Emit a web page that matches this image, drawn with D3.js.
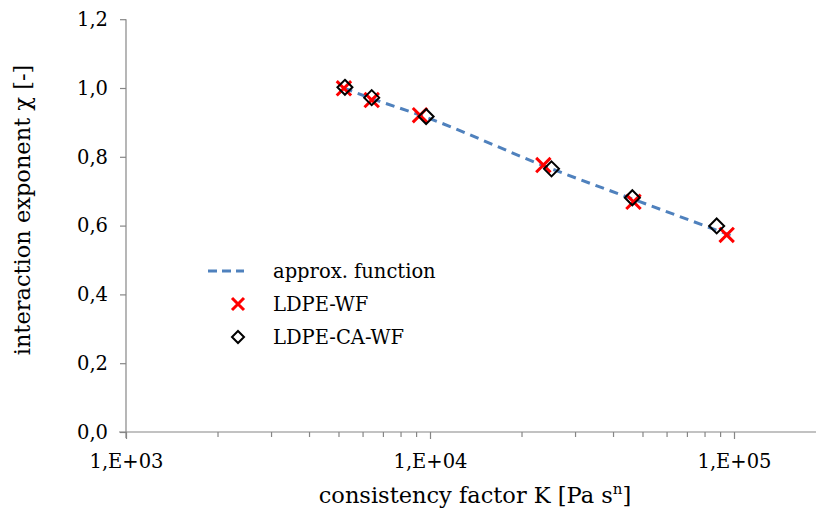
<!DOCTYPE html>
<html><head><meta charset="utf-8">
<script src="https://cdn.jsdelivr.net/npm/d3@7"></script>
<style>body{margin:0;background:#fff}svg{display:block}</style>
</head><body>
<svg id="c" width="816" height="511"></svg>
<script>
const xTickValues = [1e3, 1e4, 1e5];
const xTickLabels = ["1,E+03", "1,E+04", "1,E+05"];
const yTickValues = [0, 0.2, 0.4, 0.6, 0.8, 1.0, 1.2];
const yTickLabels = ["0,0", "0,2", "0,4", "0,6", "0,8", "1,0", "1,2"];

const approxK = [5200, 6400, 9500, 24300, 46500, 100000];
const approxChi = [1.0, 0.97, 0.918, 0.77, 0.677, 0.568];

const ldpeWfK = [5210, 6430, 9270, 23600, 46700, 94600];
const ldpeWfChi = [0.999, 0.965, 0.921, 0.776, 0.669, 0.573];

const ldpeCaWfK = [5250, 6430, 9710, 25100, 46300, 87700];
const ldpeCaWfChi = [1.002, 0.972, 0.917, 0.765, 0.681, 0.599];

const seriesNames = ["approx. function", "LDPE-WF", "LDPE-CA-WF"];
const xTitle = "consistency factor K [Pa s";
const yTitle = "interaction exponent χ [-]";

const svg = d3.select("#c");
const font = "'DejaVu Serif', 'Liberation Serif', serif";
const axisColor = "#868686";

const x = d3.scaleLog().domain([1e3, 2e5]).range([126, 126 + Math.log10(200) * 304]);
const y = d3.scaleLinear().domain([0, 1.2]).range([432, 19.2]);

// Y axis
const yAxis = d3.axisLeft(y).tickValues(yTickValues).tickSize(6)
  .tickFormat((d, i) => yTickLabels[i]);
const gy = svg.append("g").attr("transform", "translate(126,0)").call(yAxis);
gy.select(".domain").attr("d", `M0,${y(1.2)}V${y(0) + 6}`);
// X axis
const minorVals = [];
for (let dec = 1e3; dec < 2e5; dec *= 10) for (let m = 2; m <= 9; m++) if (dec * m <= 2e5) minorVals.push(dec * m);
const gxm = svg.append("g").attr("transform", `translate(0,${y(0)})`)
  .call(d3.axisBottom(x).tickValues(minorVals).tickSize(5).tickFormat(""));
gxm.select(".domain").remove();
const xAxis = d3.axisBottom(x).tickValues(xTickValues).tickSize(7).tickPadding(15)
  .tickFormat((d, i) => xTickLabels[i]);
const gx = svg.append("g").attr("transform", `translate(0,${y(0)})`).call(xAxis);
gx.select(".domain").attr("d", `M119,0H820`);

svg.selectAll(".domain, .tick line").attr("stroke", axisColor).attr("stroke-width", 1.2);
svg.selectAll(".tick text").style("font-family", font).attr("font-size", 19.5).attr("fill", "#000");
gy.selectAll(".tick text").attr("dx", "-9");

// Approx function
const line = d3.line().x(d => x(d[0])).y(d => y(d[1])).curve(d3.curveMonotoneX);
svg.append("path").datum(approxK.map((k, i) => [k, approxChi[i]]))
  .attr("d", line).attr("fill", "none").attr("stroke", "#4F81BD")
  .attr("stroke-width", 3).attr("stroke-dasharray", "9,6");

// Markers
const xs = 7.2;
function crossPath(cx, cy, s) { return `M${cx - s},${cy - s}L${cx + s},${cy + s}M${cx - s},${cy + s}L${cx + s},${cy - s}`; }
function diamondPath(cx, cy, s) { return `M${cx},${cy - s}L${cx + s},${cy}L${cx},${cy + s}L${cx - s},${cy}Z`; }
svg.append("g").selectAll("path").data(ldpeWfK.map((k, i) => [k, ldpeWfChi[i]])).join("path")
  .attr("d", d => crossPath(x(d[0]), y(d[1]), xs))
  .attr("stroke", "#FF0000").attr("stroke-width", 3).attr("fill", "none");
svg.append("g").selectAll("path").data(ldpeCaWfK.map((k, i) => [k, ldpeCaWfChi[i]])).join("path")
  .attr("d", d => diamondPath(x(d[0]), y(d[1]), 7.5))
  .attr("stroke", "#000").attr("stroke-width", 2).attr("fill", "none");

// Legend
const lg = svg.append("g");
lg.append("line").attr("x1", 208).attr("x2", 244).attr("y1", 271).attr("y2", 271)
  .attr("stroke", "#4F81BD").attr("stroke-width", 3).attr("stroke-dasharray", "9,5");
lg.append("path").attr("d", crossPath(238, 304, 6)).attr("stroke", "#FF0000").attr("stroke-width", 3);
lg.append("path").attr("d", diamondPath(238, 337, 6)).attr("stroke", "#000").attr("stroke-width", 2).attr("fill", "none");
[271, 304, 337].forEach((yy, i) => {
  lg.append("text").attr("x", 273).attr("y", yy).attr("dy", "0.35em")
    .style("font-family", font).attr("font-size", 19.5).text(seriesNames[i]);
});

// Axis titles
const xt = svg.append("text").attr("x", 475).attr("y", 503).attr("text-anchor", "middle")
  .style("font-family", font).attr("font-size", 22.5).text(xTitle);
xt.append("tspan").attr("dy", -9).attr("font-size", 15).text("n");
xt.append("tspan").attr("dy", 9).text("]");
svg.append("text").attr("transform", "translate(30,210) rotate(-90)").attr("text-anchor", "middle")
  .style("font-family", font).attr("font-size", 22.5).text(yTitle);
</script>
</body></html>
